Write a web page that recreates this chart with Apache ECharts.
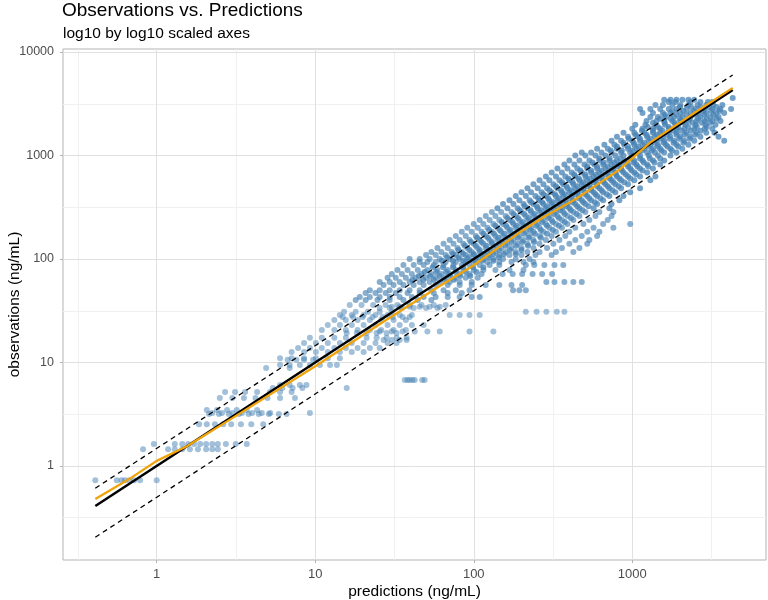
<!DOCTYPE html>
<html>
<head>
<meta charset="utf-8">
<script src="https://cdn.jsdelivr.net/npm/echarts@6/dist/echarts.min.js"></script>
<style>
  html, body { margin: 0; padding: 0; background: #fff; }
  #chart { width: 768px; height: 600px; }
</style>
</head>
<body>
<div id="chart"></div>
<script>
// observation streaks: [observation, [predictions along the streak]]
var rowsHigh = [
    [3600, [4300]],
    [3450, [1590, 1740, 1900, 2070, 2260, 2460]],
    [3280, [1700, 1870, 2330, 2690, 3000, 3200]],
    [3075, [1400, 1560, 1790, 2010, 2260, 2580, 2930, 3240, 3700]],
    [2815, [1120, 1300, 1500, 1700, 1900, 2200, 2510, 2860, 3200, 3600, 4200]],
    [2577, [1160, 1350, 1560, 1740, 2010, 2330, 2620, 2930, 3380, 3800]],
    [2360, [1300, 1450, 1630, 1840, 2070, 2330, 2690, 3110, 3500]],
    [2160, [1230, 1420, 1590, 1790, 2010, 2260, 2540, 2860, 3200, 3600]],
    [1977, [1045, 1210, 1400, 1610, 1870, 2170, 2510, 2900, 3350]],
    [1810, [1000, 1160, 1350, 1500, 1700, 1900, 2130, 2460, 2860, 3200]],
    [1657, [880, 1030, 1190, 1350, 1500, 1700, 1900, 2200, 2550, 2930, 3300]],
    [1517, [800, 940, 1090, 1240, 1390, 1560, 1740, 2010, 2330, 2690, 3500]],
    [1390, [740, 850, 1000, 1120, 1270, 1420, 1590, 1840, 2130, 2460, 3800]],
    [1272, [667, 771, 891, 1030, 1160, 1300, 1450, 1630, 1900, 2260]],
    [1165, [600, 700, 800, 940, 1060, 1190, 1350, 1500, 1740, 2070]],
    [1066, [480, 550, 640, 740, 850, 970, 1090, 1240, 1390, 1590, 1900]],
    [1000, [437, 506, 586, 677, 782, 880, 1000, 1120, 1270, 1450, 1740]],
    [894, [401, 464, 536, 620, 717, 800, 900, 1030, 1160, 1350, 1590]],
    [818, [373, 431, 499, 577, 655, 740, 829, 940, 1060, 1240, 1500]],
    [749, [337, 390, 450, 520, 600, 677, 760, 850, 970, 1120, 1350]],
    [686, [310, 360, 415, 480, 550, 620, 700, 782, 880, 1030, 1240]],
    [628, [285, 330, 378, 437, 506, 570, 640, 717, 800, 940, 1120, 1400]],
    [575, [260, 300, 347, 401, 464, 520, 586, 655, 740, 850, 1030, 1300]],
    [527, [238, 275, 318, 367, 425, 480, 536, 600, 677, 782, 940]],
    [482, [218, 253, 290, 337, 390, 437, 492, 550, 620, 717, 850, 1120]],
    [442, [200, 230, 268, 310, 360, 401, 450, 506, 570, 655, 782, 970]],
    [405, [184, 213, 245, 285, 330, 367, 415, 464, 520, 600, 717, 880]],
    [370, [168, 194, 225, 260, 300, 337, 378, 425, 480, 550, 655, 829]],
    [339, [153, 178, 206, 238, 275, 310, 347, 390, 437, 506, 600, 740]],
    [310, [141, 163, 189, 218, 253, 285, 318, 360, 401, 464, 570, 717]]
];
var rowsMid = [
    [284, [130, 149, 173, 200, 230, 260, 290, 330, 367, 425, 506, 620, 760]],
    [260, [119, 137, 159, 184, 213, 238, 268, 300, 337, 390, 464, 586, 740]],
    [238, [109, 126, 145, 168, 194, 218, 245, 275, 310, 360, 425, 536, 700]],
    [218, [100, 115, 133, 153, 178, 200, 225, 253, 285, 330, 390, 492, 655, 970]],
    [200, [91, 106, 122, 141, 163, 184, 206, 230, 260, 300, 360, 437, 570, 760]],
    [183, [84, 97, 112, 130, 149, 168, 189, 213, 238, 275, 330, 401, 520, 620]],
    [167, [77, 89, 103, 119, 137, 153, 173, 194, 225, 260, 310, 378, 480, 600]],
    [153, [70.5, 81.5, 94, 109, 126, 141, 159, 178, 206, 238, 285, 347, 437, 536]],
    [140, [64.5, 74.5, 86, 100, 115, 130, 145, 163, 189, 218, 260, 318, 401, 520]],
    [128, [59, 68.5, 79, 91, 106, 119, 133, 149, 173, 200, 238, 290, 360, 464]],
    [117, [54, 62.5, 72.5, 84, 97, 109, 122, 137, 159, 184, 218, 260, 330, 425]],
    [109, [50, 57.5, 66.5, 77, 89, 100, 112, 126, 145, 168, 200, 245, 310]],
    [100, [39.4, 45.6, 52.7, 61, 70.5, 81.5, 91, 103, 115, 133, 153, 184, 225]],
    [93.5, [45.6, 51, 57.5, 66.5, 77, 89, 103, 122, 145, 173, 206, 238]],
    [87.5, [36, 41.8, 48.3, 56, 64.5, 74.5, 84, 94, 109, 126, 145, 213, 241, 279, 323, 367]],
    [78.4, [33, 38.2, 44.3, 51, 59, 68.5, 77, 86, 100, 115, 137, 168, 206]],
    [71.6, [30.4, 35.2, 40.7, 46.8, 54, 62.5, 70.5, 81.5, 94, 112, 152, 176, 202, 235, 270, 312]],
    [65.8, [28.6, 32.2, 37.3, 43, 50, 57.5, 66.5, 77, 89, 106]],
    [60, [25.5, 29.5, 34.1, 39.4, 45.6, 52.7, 61, 70.5, 81.5, 97, 287, 323, 373, 425, 480]],
    [56, [27, 31.2, 36, 41.8, 48.3, 57.5, 68.5, 81.5, 97, 119, 145, 173, 202]],
    [50, [22.1, 25.5, 29.5, 34.1, 39.4, 45.6, 54, 64.5, 77, 94, 177, 194, 213]],
    [47, [20.8, 24, 27.8, 32.2, 38.2, 45.6, 56, 68.5, 84]],
    [43, [19.1, 22.1, 25.5, 29.5, 34.1, 40.7, 48.3, 57.5, 68.5, 81.5, 97, 109]],
    [40.2, [18, 20.8, 24.7, 29.5, 36, 44.3, 54]]
];
// extra streaks in the dense core of the band
var rowsCore = [
    [2940, [2000, 2350, 2700, 3050, 3400]],
    [2690, [1800, 2100, 2450, 2800, 3150, 3550]],
    [2470, [1600, 1900, 2200, 2500, 2850, 3250]],
    [2260, [1500, 1750, 2000, 2300, 2600, 2950, 3400]],
    [2070, [1350, 1600, 1850, 2100, 2400, 2750, 3100]],
    [1890, [1250, 1450, 1700, 1950, 2250, 2550, 2950]],
    [1730, [1150, 1350, 1550, 1800, 2050, 2350, 2700]],
    [1585, [1050, 1230, 1430, 1650, 1900, 2150, 2500]],
    [1450, [950, 1120, 1300, 1500, 1720, 1980, 2300]],
    [1330, [880, 1020, 1190, 1380, 1580, 1820, 2100]],
    [1220, [800, 940, 1090, 1260, 1450, 1670, 1950]],
    [1115, [730, 860, 1000, 1150, 1330, 1530, 1780]],
    [935, [620, 720, 840, 970, 1120, 1290, 1500]],
    [855, [560, 660, 770, 890, 1020, 1180, 1380]],
    [783, [520, 600, 700, 810, 940, 1080, 1260]],
    [717, [470, 550, 640, 740, 860, 990, 1160]],
    [656, [430, 505, 590, 680, 790, 910, 1060]],
    [600, [395, 460, 540, 620, 720, 830, 970]],
    [550, [360, 420, 490, 570, 660, 760, 890]],
    [504, [330, 385, 450, 520, 600, 700, 820]],
    [461, [300, 355, 410, 475, 550, 640, 750]],
    [423, [275, 325, 375, 435, 505, 585, 690]],
    [387, [255, 295, 345, 400, 460, 535, 630]],
    [354, [230, 270, 315, 365, 420, 490, 580]],
    [324, [210, 250, 290, 335, 385, 450, 530]],
    [296, [195, 228, 265, 305, 350, 410, 485]],
    [272, [178, 208, 242, 280, 322, 375, 445]],
    [249, [163, 190, 222, 256, 295, 345, 410]],
    [228, [150, 175, 203, 235, 270, 315, 375]],
    [209, [137, 160, 186, 215, 248, 290, 345]],
    [191, [125, 146, 170, 197, 227, 265, 315]],
    [175, [115, 134, 156, 180, 208, 243, 290]],
    [160, [105, 123, 143, 165, 190, 222, 265]],
    [146, [96, 112, 130, 150, 173, 202, 240]],
    [134, [88, 103, 120, 138, 159, 185, 220]],
    [122, [80, 94, 109, 126, 145, 169, 200]],
    [112, [74, 86, 100, 116, 133, 155, 184]],
    [104, [68, 80, 93, 107, 124, 144]],
    [96, [63, 74, 86, 99, 114, 133]],
    [83, [55, 64, 74, 86, 99, 115]],
    [75, [49, 58, 67, 77, 89, 104]],
    [68.5, [45, 53, 61, 71, 82, 95]],
    [63, [41, 48, 56, 65, 75]]
];
var rowsLow = [
    [36, [16.5, 19.6, 23.2, 27.8, 33, 39.4, 46.8, 56, 66.5]],
    [34.6, [30.4, 34.1, 39.4, 45.6, 52.7, 61]],
    [33.6, [25.5, 29.5, 35.2, 41.8, 50, 59]],
    [31, [15.2, 18, 21.5, 25.5, 30.4, 213, 249, 287, 334, 373]],
    [28.8, [14.3, 17, 20.2, 24, 28.6, 34.1, 40.7, 70.5, 81.5, 94, 109]],
    [27.5, [14.9, 17.3, 19.9, 23, 26.6, 30.8, 35.6, 39.4]],
    [25.8, [13.2, 15.6, 18.5, 22.1, 26.1, 31.2, 37.3]],
    [23, [12, 14.3, 17, 20.2, 24, 28.6, 34.1, 40.7, 48.3]],
    [20.6, [11, 13.2, 15.6, 18.5, 22.1, 26.1, 31.2, 37.3]],
    [19.9, [25.5, 30.4, 35.6, 42.4, 51, 61, 94, 133]],
    [19.3, [15.8, 18.3, 21.1, 24.4, 28.2, 32.6]],
    [17.3, [9.25, 11, 13.2, 15.6, 21.1, 24.4, 28.2, 32.6, 37.7]],
    [16.5, [27, 30.4, 34.1, 37.7]],
    [15.4, [8.5, 10.1, 12, 14.3, 17, 20.2, 24, 28.6, 32.6]],
    [13.8, [7.8, 9.25, 11, 13.2, 15.6, 18.5, 22.1, 25.5]],
    [12.6, [7.1, 8.5, 10.1, 12, 14.3, 17, 20.2]],
    [11, [6, 7.1, 8.5, 10.1, 12, 14.3]],
    [10.6, [6.7, 7.6, 8.5, 9.7]],
    [9.46, [6, 6.9, 8, 9.25, 10.7, 12.4, 13.7]],
    [8.84, [4.9, 6.9]],
    [6.77, [36.7, 38.2, 39.4, 41, 42.4, 47.3, 49]],
    [6.06, [6, 6.9, 8, 8.8]],
    [5.67, [5.4, 6.2, 7.2, 8.3, 15.8]],
    [5.2, [2.7, 3.12, 3.61, 4.3, 5.18, 6, 7.1]],
    [4.54, [2.5, 3, 3.55, 4.2, 5, 6, 7.45]],
    [3.48, [2.07, 2.4, 2.78, 3.2, 3.7, 4.3]],
    [3.25, [2.24, 2.58, 3, 3.45, 4, 4.6, 5.2, 9.25]],
    [3.18, [2.14, 2.47, 2.85, 3.3, 3.8, 4.4, 5.1, 5.9, 6.6]],
    [2.53, [1.85, 2.07, 2.33, 2.63, 2.95, 3.4, 3.95, 4.7]],
    [1.63, [0.96, 1.3, 1.45, 1.58, 1.72, 1.88, 2.05, 2.24, 2.43, 2.73, 3.15, 3.7]],
    [1.45, [0.82, 1.18, 1.3, 1.45, 1.62, 1.82, 2.05, 2.24, 2.43]],
    [0.73, [0.41, 0.56, 0.6, 0.63, 0.67, 0.72, 0.785, 1.0]]
];

// smooth (loess-like) fit, orange
var fitPred = [0.41, 0.7, 1, 1.55, 3, 10, 25, 60, 100, 194, 275, 440, 830, 1300, 2500, 4300];
var fitObs = [0.48, 0.78, 1.12, 1.55, 2.9, 9.2, 23, 54, 87, 180, 253, 380, 730, 1340, 2620, 4500];

// reference lines: identity and dashed bounds
var refPred = [0.41, 4300];
var identityObs = [0.41, 4300];
var upperObs = [0.61, 6000];
var lowerObs = [0.205, 2100];

// tick positions
var xTicks = [1, 10, 100, 1000];
var yTicks = [1, 10, 100, 1000, 10000];
var xMinor = [0.316, 3.16, 31.6, 316, 3162];
var yMinor = [0.316, 3.16, 31.6, 316, 3162];

function toPoints(rows) {
    var out = [];
    rows.forEach(function (row) {
        row[1].forEach(function (p) { out.push([p, row[0]]); });
    });
    return out;
}
function pair(xs, ys) {
    return xs.map(function (x, i) { return [x, ys[i]]; });
}

var gridLines = []
    .concat(xMinor.map(function (v) { return {xAxis: v, lineStyle: {color: '#f0f0f0'}}; }))
    .concat(yMinor.map(function (v) { return {yAxis: v, lineStyle: {color: '#f0f0f0'}}; }))
    .concat(xTicks.map(function (v) { return {xAxis: v, lineStyle: {color: '#e0e0e0'}}; }))
    .concat(yTicks.map(function (v) { return {yAxis: v, lineStyle: {color: '#e0e0e0'}}; }));

function pointSeries(rows, alpha) {
    return {
        type: 'scatter', data: toPoints(rows), symbolSize: 6, z: 3,
        itemStyle: {color: '#4682b4', opacity: alpha}
    };
}

var FONT = 'Liberation Sans, Arial, sans-serif';
var chart = echarts.init(document.getElementById('chart'));
var option = {
    animation: false,
    backgroundColor: '#fff',
    title: [
        {text: 'Observations vs. Predictions', left: 62, top: 1, padding: 0,
         textStyle: {fontFamily: FONT, fontSize: 19, fontWeight: 'normal', color: '#000'}},
        {text: 'log10 by log10 scaled axes', left: 63, top: 26, padding: 0,
         textStyle: {fontFamily: FONT, fontSize: 15.5, fontWeight: 'normal', color: '#000'}}
    ],
    grid: {left: 63, top: 49, right: 2, bottom: 40, outerBoundsMode: 'none', containLabel: false,
           show: true, borderColor: '#b3b3b3', borderWidth: 1},
    xAxis: {
        type: 'log', logBase: 10, min: 0.2564, max: 6974,
        name: 'predictions (ng/mL)', nameLocation: 'middle', nameGap: 24, nameMoveOverlap: false,
        nameTextStyle: {fontFamily: FONT, fontSize: 15.5, color: '#000'},
        axisLine: {show: false},
        axisTick: {show: true, length: 3, customValues: xTicks, lineStyle: {color: '#b3b3b3'}},
        axisLabel: {customValues: xTicks, margin: 8, fontFamily: FONT, fontSize: 13, color: '#4d4d4d',
                    formatter: function (v) { return String(v); }},
        splitLine: {show: false}, minorSplitLine: {show: false}
    },
    yAxis: {
        type: 'log', logBase: 10, min: 0.1235, max: 10690,
        name: 'observations (ng/mL)', nameLocation: 'middle', nameGap: 40, nameMoveOverlap: false,
        nameTextStyle: {fontFamily: FONT, fontSize: 15.5, color: '#000'},
        axisLine: {show: false},
        axisTick: {show: true, length: 3, customValues: yTicks, lineStyle: {color: '#b3b3b3'}},
        axisLabel: {customValues: yTicks, margin: 9, fontFamily: FONT, fontSize: 12.5, color: '#4d4d4d',
                    formatter: function (v) { return String(v); }},
        splitLine: {show: false}, minorSplitLine: {show: false}
    },
    series: [
        {
            type: 'line', data: [], z: 0, silent: true,
            markLine: {z: 0, silent: true, symbol: ['none', 'none'], label: {show: false},
                       lineStyle: {type: 'solid', width: 1}, animation: false, data: gridLines}
        },
        pointSeries(rowsHigh, 0.75),
        pointSeries(rowsCore, 0.75),
        pointSeries(rowsMid, 0.65),
        pointSeries(rowsLow, 0.5),
        {
            type: 'line', data: pair(refPred, upperObs), symbol: 'none', z: 4,
            lineStyle: {color: '#000', width: 1.3, type: [5, 4]}
        },
        {
            type: 'line', data: pair(refPred, lowerObs), symbol: 'none', z: 4,
            lineStyle: {color: '#000', width: 1.3, type: [5, 4]}
        },
        {
            type: 'line', data: pair(refPred, identityObs), symbol: 'none', z: 5,
            lineStyle: {color: '#000', width: 2.5}
        },
        {
            type: 'line', data: pair(fitPred, fitObs), symbol: 'none', z: 6,
            lineStyle: {color: '#f0a30a', width: 2.3}
        }
    ]
};
chart.setOption(option);
</script>
</body>
</html>
